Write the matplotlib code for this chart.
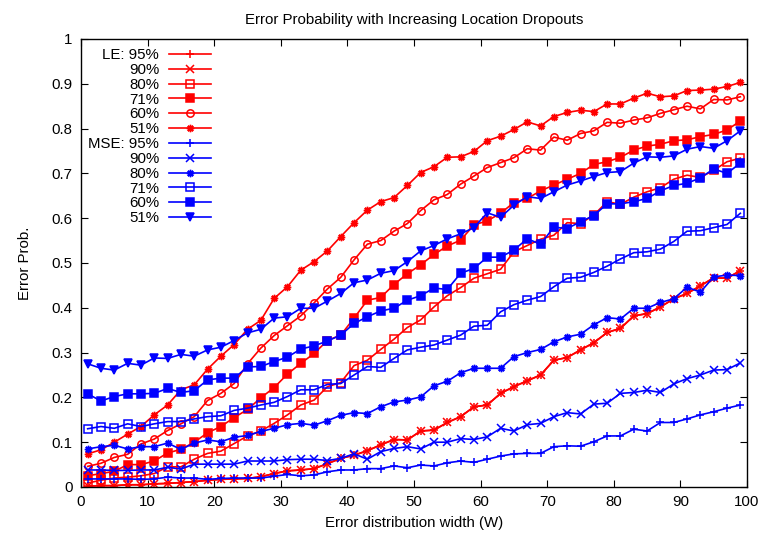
import numpy as np
import matplotlib.pyplot as plt

plt.rcParams["font.family"] = ["Liberation Sans", "DejaVu Sans"]

# error distribution width (x) for every sample
width = np.arange(1, 100, 2)

# LE results (95% and 90% lie on top of each other)
le_95 = [.002, .003, .003, .005, .005, .007, .008, .010, .012, .015, .017, .018, .019, .023, .030, .036, .038,
         .041, .052, .064, .071, .081, .094, .106, .105, .125, .127, .144, .157, .179, .183, .209, .224, .237,
         .250, .283, .289, .306, .322, .345, .354, .382, .387, .402, .420, .432, .449, .467, .466, .483]
le_90 = [.002, .003, .003, .005, .005, .007, .008, .010, .012, .015, .017, .018, .019, .023, .030, .036, .038,
         .041, .052, .064, .071, .081, .094, .106, .105, .125, .127, .144, .157, .179, .183, .209, .224, .237,
         .250, .283, .289, .306, .322, .345, .354, .382, .387, .402, .420, .432, .449, .467, .466, .483]
le_80 = [.009, .015, .020, .022, .025, .030, .045, .045, .062, .075, .080, .097, .114, .125, .142, .161,
         .183, .194, .224, .233, .271, .283, .307, .330, .356, .373, .402, .427, .445, .466, .476, .486, .525, .539,
         .553, .562, .590, .588, .607, .637, .631, .647, .659, .668, .687, .696, .691, .707, .726, .734]
le_71 = [.025, .030, .035, .050, .050, .058, .076, .084, .100, .121, .135, .155, .173, .199, .222, .252,
         .276, .298, .327, .339, .377, .417, .423, .452, .476, .496, .519, .538, .551, .585, .594, .611, .635, .644,
         .661, .674, .687, .700, .720, .726, .736, .752, .761, .765, .773, .775, .782, .787, .797, .817]
le_60 = [.046, .053, .066, .073, .096, .107, .126, .141, .157, .193, .209, .231, .275, .310, .338, .360, .382,
         .411, .442, .468, .507, .542, .550, .571, .588, .617, .641, .653, .676, .694, .713, .724, .735, .755,
         .752, .781, .774, .789, .795, .814, .812, .819, .824, .834, .842, .850, .844, .865, .864, .871]
le_51 = [.074, .083, .100, .118, .135, .161, .183, .217, .228, .263, .292, .318, .352, .372, .421, .447, .484,
         .503, .527, .559, .590, .618, .637, .646, .673, .702, .715, .736, .737, .749, .773, .783, .798, .815,
         .806, .827, .836, .841, .838, .855, .855, .868, .879, .871, .873, .885, .886, .888, .894, .903]

# MSE results
mse_95 = [.018, .018, .018, .018, .017, .018, .022, .020, .020, .017, .019, .020, .020, .020, .024, .028, .025,
          .027, .034, .038, .038, .041, .041, .047, .043, .049, .047, .054, .058, .055, .062, .069, .074, .075,
          .075, .090, .092, .091, .101, .114, .114, .129, .125, .144, .144, .152, .161, .168, .176, .183]
mse_90 = [.038, .038, .037, .037, .038, .038, .044, .040, .051, .051, .051, .051, .058, .058, .058, .061, .062,
          .062, .059, .064, .074, .062, .079, .086, .090, .085, .100, .100, .108, .106, .112, .131, .125, .139,
          .142, .157, .166, .163, .185, .187, .209, .211, .216, .211, .230, .242, .250, .261, .262, .277]
mse_80 = [.085, .090, .093, .085, .090, .090, .098, .084, .098, .105, .101, .111, .115, .124, .131, .139, .142,
          .138, .148, .160, .166, .164, .179, .190, .194, .201, .226, .236, .255, .265, .265, .265, .291, .300,
          .307, .324, .335, .341, .362, .378, .375, .399, .399, .412, .420, .446, .435, .469, .473, .472]
mse_71 = [.130, .135, .131, .141, .135, .141, .146, .146, .152, .157, .159, .171, .176, .183, .189, .202, .217,
          .217, .229, .231, .250, .269, .267, .287, .306, .312, .317, .328, .339, .359, .361, .391, .407, .417,
          .425, .447, .466, .468, .479, .493, .509, .523, .525, .531, .548, .571, .572, .579, .586, .611]
mse_60 = [.208, .192, .202, .208, .208, .209, .220, .211, .215, .239, .243, .243, .268, .269, .280, .290, .308,
          .315, .326, .339, .365, .380, .393, .399, .417, .427, .444, .441, .477, .488, .513, .513, .529, .554,
          .542, .580, .577, .592, .606, .632, .632, .637, .644, .661, .673, .678, .690, .710, .700, .723]
mse_51 = [.275, .265, .261, .276, .272, .288, .287, .296, .292, .306, .312, .327, .344, .352, .377, .380, .399,
          .399, .415, .432, .456, .462, .477, .483, .503, .527, .539, .554, .565, .579, .612, .602, .629, .648,
          .644, .659, .674, .683, .693, .702, .704, .723, .737, .736, .739, .754, .760, .756, .773, .795]

red = "#ff0000"
blue = "#0000ff"
star = (8, 2, 0)

series = [
    (le_95, "LE: 95%", red, "+", True),
    (le_90, "90%", red, "x", True),
    (le_80, "80%", red, "s", False),
    (le_71, "71%", red, "s", True),
    (le_60, "60%", red, "o", False),
    (le_51, "51%", red, star, True),
    (mse_95, "MSE: 95%", blue, "+", True),
    (mse_90, "90%", blue, "x", True),
    (mse_80, "80%", blue, star, True),
    (mse_71, "71%", blue, "s", False),
    (mse_60, "60%", blue, "s", True),
    (mse_51, "51%", blue, "v", True),
]

fs = 10.8

fig = plt.figure(figsize=(7.59, 5.34), dpi=100)
ax = fig.add_axes([81 / 759, 1 - 487 / 534, 666 / 759, 448 / 534])

for values, label, color, marker, filled in series:
    ax.plot(width, values, color=color, lw=1.2, marker=marker, ms=5.3, mew=1.1,
            mfc=color if filled else "none", mec=color, label=label)

ax.set_xlim(0, 100)
ax.set_ylim(0, 1)
ax.set_xticks(np.arange(0, 101, 10))
ax.set_yticks(np.arange(0, 1.01, 0.1))
ax.set_yticklabels(["0", "0.1", "0.2", "0.3", "0.4", "0.5", "0.6", "0.7", "0.8", "0.9", "1"])
ax.tick_params(direction="in", top=True, right=True, length=5, labelsize=fs, pad=6)
for s in ax.spines.values():
    s.set_linewidth(1.0)

ax.set_title("Error Probability with Increasing Location Dropouts", fontsize=fs, pad=11)
ax.set_xlabel("Error distribution width (W)", fontsize=fs, labelpad=5)
ax.set_ylabel("Error Prob.", fontsize=fs, labelpad=14)

ax.legend(loc="upper left", bbox_to_anchor=(-0.005, 1.003), markerfirst=False, frameon=False,
          fontsize=fs, handlelength=2.8, labelspacing=0.055, handletextpad=0.65, borderaxespad=0.3)

fig.savefig("out.png", dpi=100)
